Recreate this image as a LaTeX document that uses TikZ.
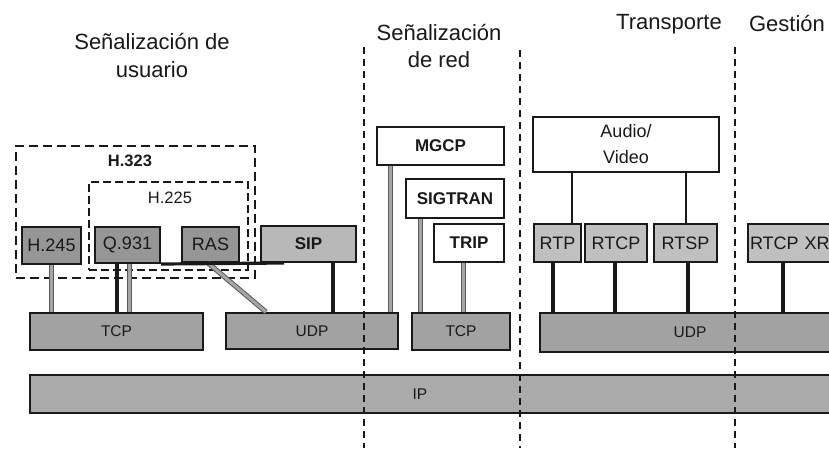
\documentclass[tikz,border=0pt]{standalone}
\usepackage{fontspec}
\setmainfont{Liberation Sans}
\usetikzlibrary{calc}
\definecolor{inkc}{RGB}{25,25,25}
\definecolor{hdark}{RGB}{150,150,150}
\definecolor{siplight}{RGB}{184,184,184}
\definecolor{transgray}{RGB}{162,162,162}
\definecolor{rtplight}{RGB}{192,192,192}
\definecolor{ipgray}{RGB}{170,170,170}
\definecolor{connedge}{RGB}{90,90,90}
\definecolor{connfill}{RGB}{165,165,165}
\begin{document}
\begin{tikzpicture}[x=1pt,y=-1pt,
  box/.style={draw=inkc, line width=2pt, inner sep=0pt, text=inkc,
    font=\fontsize{18}{20}\selectfont},
  boldbox/.style={box, font=\fontsize{17}{20}\selectfont\bfseries},
  layerbox/.style={box, fill=transgray, font=\fontsize{15.5}{18}\selectfont},
  grp/.style={draw=inkc, line width=2.2pt, dash pattern=on 9pt off 5pt},
  grpin/.style={draw=inkc, line width=1.8pt, dash pattern=on 8pt off 4pt},
  divider/.style={draw=inkc, line width=1.8pt, dash pattern=on 7pt off 5pt},
  header/.style={text=inkc, align=center, font=\fontsize{22}{28}\selectfont},
  blackconn/.style={draw=inkc, line width=3.2pt},
  thinconn/.style={draw=inkc, line width=1.5pt},
  grayconn/.style={draw=connedge, line width=1pt, double=connfill, double distance=3pt},
]
\clip (0,0) rectangle (829,448);
\fill[white] (0,0) rectangle (829,448);

% column headings
\node[header] (husr) at (152,56) {Señalización de\\usuario};
\node[header, font=\fontsize{22}{27}\selectfont] (hred) at (439,46) {Señalización\\de red};
\node[header] (htra) at (669,24) {Transporte};
\node[header] (hges) at (787,24) {Gestión};

% H.323 / H.225 groupings
\node[grp, minimum width=239, minimum height=132, inner sep=0pt] (h323) at (135.5,212) {};
\node[text=inkc, font=\fontsize{16.5}{19}\selectfont\bfseries] (h323lbl) at (130,161) {H.323};
\node[grpin, minimum width=159, minimum height=88, inner sep=0pt] (h225) at (168.5,226) {};
\node[text=inkc, font=\fontsize{16.5}{19}\selectfont] (h225lbl) at (170,198) {H.225};

% user signalling protocols
\node[box, fill=hdark, minimum width=59, minimum height=37] (h245) at (51.5,245.5) {H.245};
\node[box, fill=hdark, minimum width=65, minimum height=36] (q931) at (127.5,245) {Q.931};
\node[box, fill=hdark, minimum width=57, minimum height=35] (ras) at (210.5,244.5) {RAS};
\node[boldbox, fill=siplight, minimum width=95, minimum height=36] (sip) at (308.5,244) {SIP};

% network signalling protocols
\node[boldbox, fill=white, minimum width=127, minimum height=38] (mgcp) at (440.5,146) {MGCP};
\node[boldbox, fill=white, minimum width=98, minimum height=39] (sigtran) at (455,198.5) {SIGTRAN};
\node[boldbox, fill=white, minimum width=70, minimum height=38] (trip) at (469,243) {TRIP};

% transport and management protocols
\node[box, fill=white, minimum width=186, minimum height=55, align=center,
      font=\fontsize{18}{26}\selectfont] (av) at (626,144.5) {Audio/\\Video};
\node[box, fill=rtplight, minimum width=47, minimum height=38] (rtp) at (557.5,243) {RTP};
\node[box, fill=rtplight, minimum width=62, minimum height=38] (rtcp) at (616,243) {RTCP};
\node[box, fill=rtplight, minimum width=63, minimum height=38] (rtsp) at (685.5,243) {RTSP};
\node[box, fill=rtplight, minimum height=38, text width=95, align=left, inner xsep=2pt,
      anchor=west] (rtcpxr) at (747,243) {RTCP XR};

% transport layer and IP
\node[layerbox, minimum width=173, minimum height=37] (tcpa) at (116.5,331.5) {TCP};
\node[layerbox, minimum width=172, minimum height=36] (udpa) at (312,331) {UDP};
\node[layerbox, minimum width=98, minimum height=37] (tcpb) at (461,331.5) {TCP};
\node[layerbox, minimum width=300, minimum height=39] (udpb) at (690,332.5) {UDP};
\node[layerbox, fill=ipgray, minimum width=815, minimum height=38] (ip) at (437.5,394) {};
\node[text=inkc, font=\fontsize{15.5}{18}\selectfont] (iplbl) at (420,394) {IP};

% connectors: user signalling
\draw[grayconn] (h245.south) -- (h245.south |- tcpa.north);
\draw[blackconn] ([xshift=-10.5pt]q931.south) coordinate (qa) -- (qa |- tcpa.north);
\draw[grayconn] ([xshift=1.5pt]q931.south) coordinate (qb) -- (qb |- tcpa.north);
\draw[grayconn] ([xshift=-2.5pt]ras.south) -- ([xshift=41pt]udpa.north west);
\draw[blackconn] ([xshift=24.5pt]sip.south) coordinate (sa) -- (sa |- udpa.north);
\coordinate (busend) at ([xshift=24pt]sip.south west);
\draw[blackconn] (q931.south east) -- (busend);

% connectors: network signalling
\draw[grayconn] ([xshift=14pt]mgcp.south west) coordinate (ma) -- (ma |- udpa.north);
\draw[grayconn] ([xshift=15pt]sigtran.south west) coordinate (ga) -- (ga |- tcpb.north);
\draw[grayconn] ([xshift=30pt]trip.south west) coordinate (ta) -- (ta |- tcpb.north);

% connectors: transport and management
\draw[thinconn] ([xshift=40pt]av.south west) coordinate (va) -- (va |- rtp.north);
\draw[thinconn] ([xshift=154pt]av.south west) coordinate (vb) -- (vb |- rtsp.north);
\draw[blackconn] ([xshift=20pt]rtp.south west) coordinate (ra) -- (ra |- udpb.north);
\draw[blackconn] ([xshift=-1pt]rtcp.south) coordinate (rb) -- (rb |- udpb.north);
\draw[blackconn] ([xshift=2.5pt]rtsp.south) coordinate (rc) -- (rc |- udpb.north);
\draw[blackconn] ([xshift=36pt]rtcpxr.south west) coordinate (rd) -- (rd |- udpb.north);

% column dividers
\coordinate (d1t) at (364,47);  \coordinate (d1b) at (364,448);
\coordinate (d2t) at (520,50);  \coordinate (d2b) at (520,448);
\coordinate (d3t) at (735,47);  \coordinate (d3b) at (735,448);
\draw[divider] (d1t) -- (d1b);
\draw[divider] (d2t) -- (d2b);
\draw[divider] (d3t) -- (d3b);
\end{tikzpicture}
\end{document}
